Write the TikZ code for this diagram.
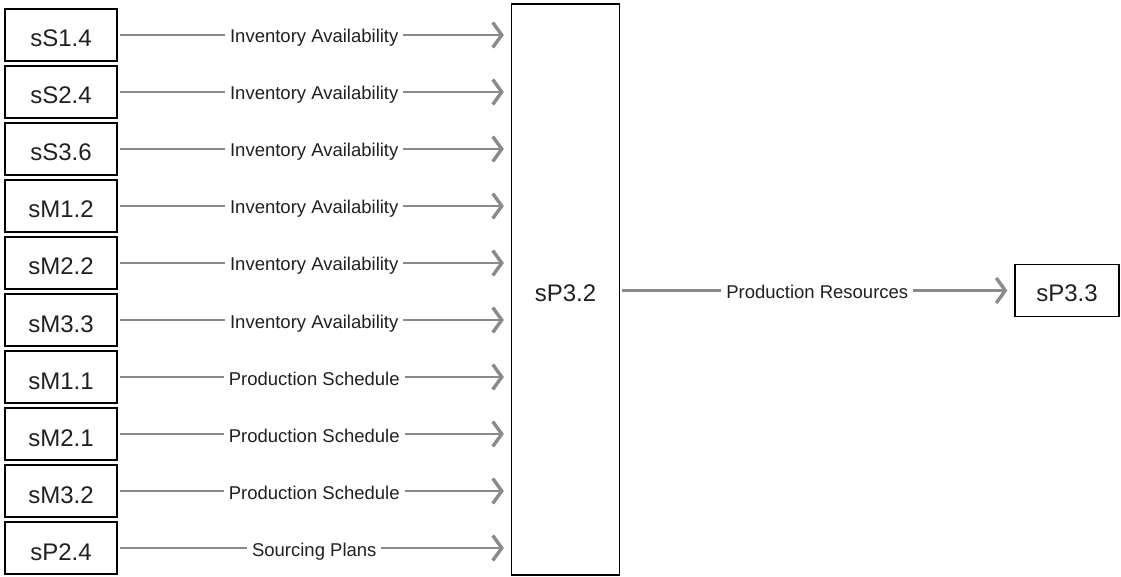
\documentclass[tikz,border=0pt]{standalone}
\usepackage{fontspec}
\setmainfont{Liberation Sans}
\usetikzlibrary{arrows.meta}
\definecolor{inkc}{HTML}{231F20}
\definecolor{flowc}{HTML}{8A8A8A}
\tikzset{
  procbox/.style={draw=black, line width=1.3pt, minimum width=112pt, minimum height=52pt,
    inner sep=0pt, text=inkc, text height=24pt, text depth=0pt,
    font=\fontsize{24pt}{26pt}\selectfont},
  flow/.style={draw=flowc, line width=2.9pt,
    -{Straight Barb[length=9pt,width=25pt,line width=3.4pt]},
    shorten <=2pt, shorten >=7pt},
  flowlabel/.style={fill=white, text=inkc, inner xsep=5pt, inner ysep=1pt,
    text height=16pt, text depth=0pt,
    font=\fontsize{18.5pt}{20pt}\selectfont}
}
\begin{document}
\begin{tikzpicture}[x=1pt,y=-1pt]
\useasboundingbox (0,0) rectangle (1121,577);
% central process and its successor
\node[procbox, minimum width=108pt, minimum height=571pt] (p32) at (565.5,289.5) {sP3.2};
\node[procbox, minimum width=104pt, minimum height=52pt, text height=21pt] (p33) at (1067,290.5) {sP3.3};
% input processes
\foreach \n/\lbl [count=\i from 0] in {
  sS1.4/Inventory Availability,
  sS2.4/Inventory Availability,
  sS3.6/Inventory Availability,
  sM1.2/Inventory Availability,
  sM2.2/Inventory Availability,
  sM3.3/Inventory Availability,
  sM1.1/Production Schedule,
  sM2.1/Production Schedule,
  sM3.2/Production Schedule,
  sP2.4/Sourcing Plans}{
  \node[procbox] (in\i) at (61,35+57*\i) {\n};
  \draw[flow] (in\i.east) -- node[flowlabel] {\lbl} (in\i.east -| p32.west);
}
\draw[flow] (p32.east |- p33.west) -- node[flowlabel] {Production Resources} (p33.west);
\end{tikzpicture}
\end{document}
